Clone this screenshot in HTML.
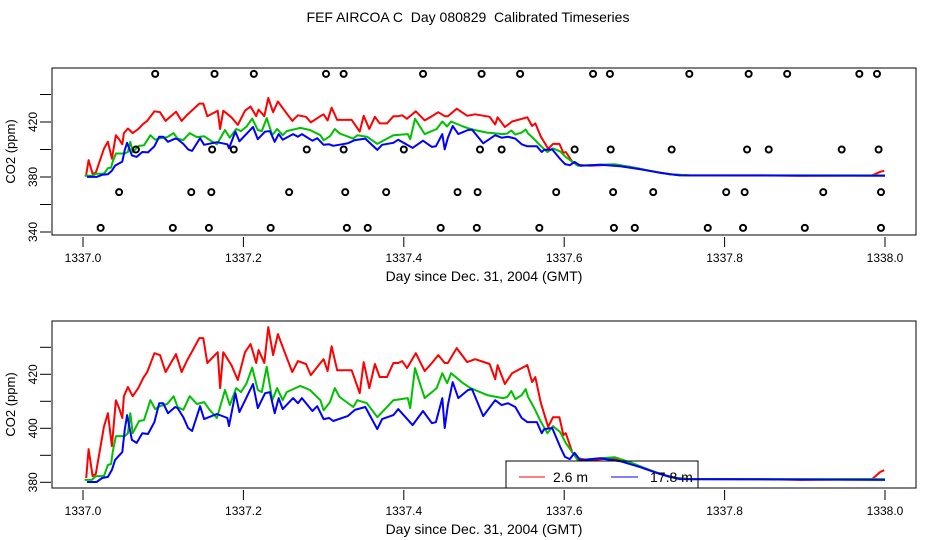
<!DOCTYPE html>
<html><head><meta charset="utf-8"><style>
html,body{margin:0;padding:0;background:#fff;}
svg{display:block;font-family:"Liberation Sans",sans-serif;}
text{white-space:pre;}
</style></head><body>
<svg id="chart" width="936" height="540" viewBox="0 0 936 540" xmlns="http://www.w3.org/2000/svg">
<text x="468" y="22" font-size="14" text-anchor="middle">FEF AIRCOA C  Day 080829  Calibrated Timeseries</text>
<g id="topPanel"></g><g id="botPanel"></g>
</svg>
<script>
// time offsets are days after 1337.0
const redT=[.004,.007,.012,.016,.026,.031,.036,.041,.045,.049,.051,.056,.062,.069,.075,.080,.089,.096,.103,.116,.123,.130,.137,.145,.150,.155,.168,.171,.175,.185,.193,.202,.209,.216,.219,.226,.231,.237,.243,.250,.261,.268,.278,.284,.296,.300,.305,.310,.317,.335,.345,.350,.357,.364,.370,.379,.387,.393,.398,.404,.415,.426,.435,.443,.451,.455,.466,.479,.489,.507,.514,.517,.526,.535,.554,.560,.564,.571,.580,.586,.594,.599,.602,.610,.616,.632,.657,.682,.707,.732,.757,.844,.894,.984,.994,.999];
const redV=[381.6,392.3,382.3,383.1,400.5,405.6,393.4,410.4,407.5,403.8,411.9,415.3,411.9,414.9,418.6,420.8,427.8,427.1,420.8,427.5,420.8,425.3,429.0,433.4,433.4,424.2,428.2,414.9,428.2,423.4,417.9,428.2,431.2,424.2,429.0,424.2,437.5,427.1,434.9,429.3,420.8,424.9,423.8,419.7,424.2,425.6,421.2,430.4,421.5,421.5,413.0,424.5,414.9,423.8,419.0,419.0,424.2,424.2,424.9,422.3,427.8,421.2,424.2,427.1,424.2,424.2,429.7,424.5,425.6,423.8,418.2,423.4,416.4,420.4,423.4,417.1,419.0,409.3,400.5,404.1,404.1,397.5,398.2,391.2,388.9,388.2,388.9,387.4,384.5,381.9,381.2,381.2,380.9,381.2,383.8,384.5];
const greenT=[.002,.011,.016,.026,.031,.035,.037,.041,.052,.056,.059,.062,.070,.076,.084,.090,.096,.105,.113,.118,.125,.133,.142,.151,.158,.167,.177,.183,.191,.197,.204,.211,.218,.223,.229,.236,.242,.249,.254,.271,.283,.296,.300,.308,.314,.320,.337,.342,.354,.367,.387,.405,.408,.414,.426,.441,.448,.454,.459,.474,.483,.495,.504,.516,.524,.529,.534,.539,.547,.552,.555,.562,.570,.579,.586,.595,.602,.610,.617,.645,.663,.682,.707,.732,.757,1.0];
const greenV=[380.9,380.9,382.3,382.3,386.4,386.8,391.2,397.1,397.1,398.2,405.6,398.2,402.7,403.0,410.4,407.1,408.2,409.0,411.9,407.9,406.8,411.9,409.0,409.7,406.8,403.8,414.2,408.6,414.9,413.4,416.7,422.5,414.2,413.4,422.8,410.4,414.9,410.4,413.4,415.7,414.2,410.4,406.7,409.7,414.9,411.6,407.9,410.4,409.3,404.1,410.4,411.2,407.5,422.3,411.2,414.9,420.4,416.7,420.4,416.7,414.9,413.4,412.3,411.6,411.2,411.6,413.8,410.8,412.3,414.5,411.6,407.9,403.0,398.2,400.8,398.6,394.5,391.2,388.2,388.9,389.3,387.4,384.5,381.9,381.2,381.2];
const blueT=[.005,.017,.024,.031,.036,.040,.049,.052,.055,.061,.067,.074,.081,.089,.095,.100,.106,.115,.118,.125,.131,.136,.146,.151,.167,.180,.182,.190,.195,.212,.218,.227,.233,.239,.244,.249,.262,.268,.273,.286,.292,.300,.307,.312,.330,.339,.352,.367,.373,.387,.393,.411,.424,.435,.440,.448,.451,.455,.461,.468,.480,.485,.499,.514,.522,.530,.539,.547,.554,.566,.572,.575,.585,.595,.601,.607,.613,.620,.645,.670,.695,.719,.744,1.0];
const blueV=[380.1,380.1,381.6,382.0,384.6,388.3,391.2,399.4,404.9,395.7,394.6,398.2,397.9,402.3,409.3,409.3,405.6,407.9,407.5,404.1,400.1,399.0,408.2,403.4,405.3,403.8,400.8,413.0,406.0,416.4,407.5,413.0,413.4,405.6,411.2,407.1,411.2,409.3,411.2,406.4,408.2,403.4,403.8,402.7,404.5,406.8,407.9,399.7,403.4,404.9,407.1,401.2,406.4,401.9,402.3,411.2,400.1,408.6,417.1,411.2,414.2,414.5,404.5,410.4,408.6,409.3,407.9,403.8,402.3,402.3,398.2,399.7,400.1,393.1,389.4,388.6,390.9,388.2,388.9,387.8,385.6,383.1,381.2,380.9];
// flag circles (top panel): times per level
const flagLevels=[455,400,369,343];
const flagT0=[.090,.164,.213,.303,.325,.424,.497,.545,.636,.657,.756,.830,.878,.968,.990];
const flagT1=[.066,.161,.188,.279,.325,.400,.495,.522,.613,.658,.734,.828,.855,.946,.992];
const flagT2=[.045,.135,.160,.257,.327,.378,.467,.492,.590,.661,.711,.802,.825,.923,.995];
const flagT3=[.022,.112,.157,.234,.329,.355,.446,.491,.569,.662,.688,.779,.823,.900,.995];
const xTicks=[1337.0,1337.2,1337.4,1337.6,1337.8,1338.0];
const topYTicks=[340,360,380,400,420,440];
const topYLabels=[340,380,420];
const botYTicks=[380,390,400,410,420,430];
const botYLabels=[380,400,420];

const NS='http://www.w3.org/2000/svg';
function mk(parent,tag,attrs){const e=document.createElementNS(NS,tag);for(const k in attrs)e.setAttribute(k,attrs[k]);parent.appendChild(e);return e;}
const xs=d=>83+(d-1337)*802;
function panel(g,box,ys,yTicks,yLabels,series,name){
  const fr=mk(g,'rect',{x:box.x,y:box.y,width:box.w,height:box.h,fill:'none',stroke:'#000','stroke-width':1});
  
  
  xTicks.forEach(v=>{
    const t=mk(g,'line',{x1:xs(v),x2:xs(v),y1:box.y+box.h+2,y2:box.y+box.h+12,stroke:'#000'});
    
    
    const l=mk(g,'text',{x:xs(v),y:box.y+box.h+27,'font-size':12,'text-anchor':'middle'});
    l.textContent=v.toFixed(1);
    
    
  });
  const xl=mk(g,'text',{x:484,y:box.y+box.h+46,'font-size':14,'text-anchor':'middle'});
  xl.textContent='Day since Dec. 31, 2004 (GMT)';
  
  
  yTicks.forEach(v=>{
    const t=mk(g,'line',{x1:40,x2:51,y1:ys(v),y2:ys(v),stroke:'#000'});
    
    
  });
  yLabels.forEach(v=>{
    const l=mk(g,'text',{x:0,y:0,'font-size':12,'text-anchor':'middle',transform:`translate(37,${ys(v)}) rotate(-90)`});
    l.textContent=v;
    
    
  });
  const yl=mk(g,'text',{x:0,y:0,'font-size':13,'text-anchor':'middle',transform:`translate(15,${box.y+box.h/2}) rotate(-90)`});
  yl.textContent='CO2 (ppm)';
  
  
  series.forEach(s=>{
    const n=Math.min(s.t.length,s.v.length);
    const pts=[];
    for(let i=0;i<n;i++)pts.push(xs(1337+s.t[i]).toFixed(1)+','+ys(s.v[i]).toFixed(1));
    const p=mk(g,'polyline',{points:pts.join(' '),fill:'none',stroke:s.c,'stroke-width':2,'stroke-linejoin':'round'});
    
    
  });
}
const seriesList=[{t:redT,v:redV,c:'#ff0000',n:'series-2.6m'},{t:greenT,v:greenV,c:'#00c000',n:'series-mid'},{t:blueT,v:blueV,c:'#0000ff',n:'series-17.8m'}];
const gTop=document.getElementById('topPanel'),gBot=document.getElementById('botPanel');
const ysTop=v=>177-(v-380)*55/40;
const ysBot=v=>482.3-(v-380)*2.7;
panel(gTop,{x:52,y:68,w:864,h:167},ysTop,topYTicks,topYLabels,seriesList,'top');
[flagT0,flagT1,flagT2,flagT3].forEach((arr,k)=>arr.forEach(t=>{
  const c=mk(gTop,'circle',{cx:xs(1337+t),cy:ysTop(flagLevels[k]),r:3,fill:'none',stroke:'#000','stroke-width':2});
  
  
}));
panel(gBot,{x:52,y:321,w:864,h:167},ysBot,botYTicks,botYLabels,seriesList,'bottom');
const lg=mk(gBot,'g',{});


mk(lg,'rect',{x:506,y:461,width:192,height:27,fill:'none',stroke:'#000'});
const l1=mk(lg,'line',{x1:519,x2:545,y1:477,y2:477,stroke:'#ff0000'});


const t1=mk(lg,'text',{x:553,y:482,'font-size':14});t1.textContent='2.6 m';


const l2=mk(lg,'line',{x1:611,x2:638,y1:477,y2:477,stroke:'#0000ff'});


const t2=mk(lg,'text',{x:650,y:482,'font-size':14});t2.textContent='17.8 m';


</script>
</body></html>
